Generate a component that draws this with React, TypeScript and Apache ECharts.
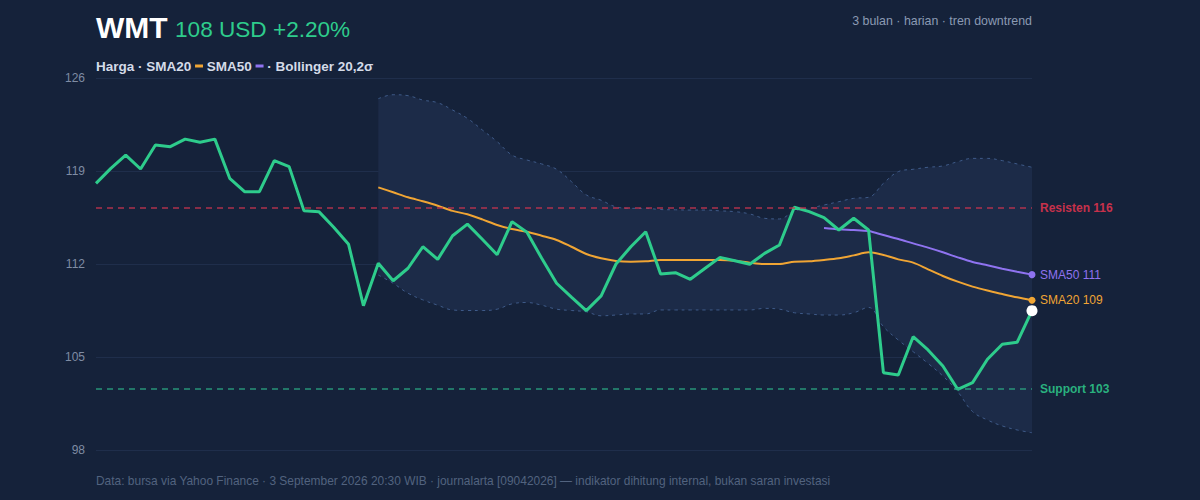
import React, { useEffect, useRef } from "react";
import * as echarts from "echarts";

// 64 daily sessions (3 months)
const days = Array.from({ length: 64 }, (_, i) => `H${i + 1}`);

const price = [
  118.07, 119.2, 120.2, 119.15, 120.96, 120.83, 121.4, 121.16, 121.4, 118.45,
  117.44, 117.44, 119.78, 119.33, 116.0, 115.94, 114.76, 113.48, 108.86, 112.05,
  110.74, 111.68, 113.3, 112.35, 114.13, 115.0, 113.86, 112.7, 115.19, 114.4,
  112.43, 110.55, 109.5, 108.49, 109.6, 112.0, 113.3, 114.43, 111.25, 111.35,
  110.85, 111.68, 112.5, 112.25, 111.98, 112.8, 113.43, 116.27, 115.94, 115.49,
  114.56, 115.44, 114.56, 103.82, 103.65, 106.53, 105.53, 104.32, 102.57, 103.07,
  104.83, 105.96, 106.11, 108.49,
];

// SMA20 from session 20 (index 19)
const sma20Start = 19;
const sma20 = [
  117.77, 117.4, 117.02, 116.72, 116.39, 116.0, 115.74, 115.36, 114.94, 114.63,
  114.43, 114.13, 113.81, 113.3, 112.75, 112.43, 112.23, 112.17, 112.2, 112.3,
  112.3, 112.3, 112.3, 112.3, 112.25, 112.1, 112.0, 112.0, 112.17, 112.2,
  112.3, 112.43, 112.65, 112.88, 112.68, 112.35, 112.1, 111.6, 111.1, 110.67,
  110.3, 110.0, 109.74, 109.49, 109.27,
];

// SMA50 from session 50 (index 49)
const sma50Start = 49;
const sma50 = [
  114.71, 114.61, 114.56, 114.48, 114.18, 113.88, 113.55, 113.23, 112.88, 112.5,
  112.15, 111.9, 111.65, 111.42, 111.2,
];

// Bollinger 20,2σ from index 19
const bbStart = 19;
const bbUpper = [
  124.44, 124.74, 124.67, 124.34, 124.14, 123.59, 122.96, 122.09, 121.21, 120.2,
  119.83, 119.53, 119.13, 118.2, 117.2, 116.8, 116.3, 116.19, 116.19, 116.1,
  116.08, 116.06, 116.06, 116.0, 115.94, 115.77, 115.44, 115.39, 115.99, 116.19,
  116.44, 116.69, 116.94, 117.02, 118.07, 118.95, 119.13, 119.28, 119.38, 119.7,
  119.95, 119.95, 119.78, 119.53, 119.28,
];
const bbLower = [
  111.17, 110.55, 109.8, 109.3, 108.9, 108.54, 108.5, 108.5, 108.6, 109.0,
  109.1, 108.9, 108.6, 108.5, 108.4, 108.1, 108.16, 108.24, 108.24, 108.54,
  108.54, 108.54, 108.54, 108.54, 108.54, 108.54, 108.66, 108.6, 108.33, 108.24,
  108.16, 108.16, 108.33, 108.73, 107.28, 106.28, 105.4, 104.52, 103.57, 102.39,
  100.89, 100.26, 99.81, 99.51, 99.3,
];

const yMin = 98;
const yMax = 126;
const yStep = 7;

const resistance = 116.25;
const support = 102.6;

const FONT = "'Liberation Sans', Arial, Helvetica, sans-serif";
const BG = "#15223a";
const GREEN = "#2ecc8c";
const ORANGE = "#f0a534";
const PURPLE = "#8f73f0";
const RED = "#e8344f";

function pad(arr: number[], start: number): (number | null)[] {
  return [...Array(start).fill(null), ...arr];
}

function withEndDot(arr: (number | null)[], size: number, color: string) {
  return arr.map((v, i) =>
    i === arr.length - 1
      ? { value: v, symbol: "circle", symbolSize: size, itemStyle: { color } }
      : v
  );
}

function levelSeries(name: string, value: number, lineColor: string, labelColor: string, text: string) {
  return {
    name,
    type: "line",
    data: [],
    symbol: "none",
    color: lineColor,
    itemStyle: { color: lineColor },
    lineStyle: { color: lineColor },
    z: 2,
    markLine: {
      silent: true,
      symbol: ["none", "none"],
      lineStyle: { color: lineColor, width: 1.5, type: [6, 5], opacity: 0.85 },
      emphasis: { disabled: true },
      label: {
        show: true,
        position: "end",
        distance: 8,
        formatter: text,
        color: labelColor,
        fontSize: 12,
        fontWeight: "bold",
        fontFamily: FONT,
      },
      data: [{ yAxis: value, lineStyle: { color: lineColor } }],
    },
  };
}

export default function App() {
  const ref = useRef<HTMLDivElement>(null);

  useEffect(() => {
    document.body.style.margin = "0";
    document.body.style.background = BG;
    const chart = echarts.init(ref.current!, undefined, { renderer: "svg" });

    const lowerFull = pad(bbLower, bbStart);
    const widthFull = pad(
      bbUpper.map((u, i) => +(u - bbLower[i]).toFixed(2)),
      bbStart
    );

    const option: any = {
      animation: false,
      backgroundColor: BG,
      textStyle: { fontFamily: FONT },
      grid: { left: 96, right: 168, top: 78, bottom: 50 },
      xAxis: {
        type: "category",
        data: days,
        boundaryGap: false,
        show: false,
      },
      yAxis: {
        type: "value",
        min: yMin,
        max: yMax,
        interval: yStep,
        axisLine: { show: false },
        axisTick: { show: false },
        axisLabel: { color: "#7f8ca3", fontSize: 12, margin: 11, fontFamily: FONT },
        splitLine: { lineStyle: { color: "#1f2e4b", width: 1 } },
      },
      series: [
        {
          name: "BB lower",
          type: "line",
          data: lowerFull,
          stack: "bb",
          smooth: 0.4,
          symbol: "none",
          lineStyle: { color: "#3f5b89", width: 1, type: [3, 4] },
          z: 1,
        },
        {
          name: "BB upper",
          type: "line",
          data: widthFull,
          stack: "bb",
          smooth: 0.4,
          symbol: "none",
          lineStyle: { color: "#3f5b89", width: 1, type: [3, 4] },
          areaStyle: { color: "#1c2b48", opacity: 1 },
          z: 1,
        },
        levelSeries("Resisten", resistance, "#c8344f", RED, "Resisten 116"),
        levelSeries("Support", support, "#2aa882", GREEN, "Support 103"),
        {
          name: "SMA20",
          type: "line",
          data: withEndDot(pad(sma20, sma20Start), 7, ORANGE),
          smooth: 0.3,
          symbol: "none",
          showSymbol: true,
          showAllSymbol: true,
          lineStyle: { color: ORANGE, width: 2 },
          itemStyle: { color: ORANGE },
          endLabel: {
            show: true,
            formatter: "SMA20 109",
            color: ORANGE,
            fontSize: 12,
            fontFamily: FONT,
            distance: 8,
          },
          z: 3,
        },
        {
          name: "SMA50",
          type: "line",
          data: withEndDot(pad(sma50, sma50Start), 7, PURPLE),
          smooth: 0.3,
          symbol: "none",
          showSymbol: true,
          showAllSymbol: true,
          lineStyle: { color: PURPLE, width: 2 },
          itemStyle: { color: PURPLE },
          endLabel: {
            show: true,
            formatter: "SMA50 111",
            color: PURPLE,
            fontSize: 12,
            fontFamily: FONT,
            distance: 8,
          },
          z: 3,
        },
        {
          name: "Harga",
          type: "line",
          data: withEndDot(price, 11, "#ffffff"),
          symbol: "none",
          showSymbol: true,
          showAllSymbol: true,
          lineStyle: { color: GREEN, width: 3 },
          itemStyle: { color: "#ffffff" },
          z: 4,
        },
      ],
      graphic: [
        {
          type: "text",
          left: 96,
          top: 12,
          style: {
            text: "WMT",
            fill: "#ffffff",
            font: `bold 30px ${FONT}`,
          },
        },
        {
          type: "text",
          left: 175,
          top: 18,
          style: {
            text: "108 USD +2.20%",
            fill: GREEN,
            font: `22.6px ${FONT}`,
          },
        },
        {
          type: "text",
          right: 168,
          top: 15,
          style: {
            text: "3 bulan · harian · tren downtrend",
            fill: "#8b9ab3",
            font: `12.4px ${FONT}`,
            align: "right",
          },
        },
        {
          type: "text",
          left: 96,
          top: 59,
          style: {
            text: "{a|Harga · SMA20 }{o|}{a| SMA50 }{p|}{a| · Bollinger 20,2σ}",
            rich: {
              a: { fill: "#d4dbe8", color: "#d4dbe8", fontWeight: "bold", fontSize: 13.5, fontFamily: FONT },
              o: { width: 8, height: 3, backgroundColor: ORANGE },
              p: { width: 8, height: 3, backgroundColor: PURPLE },
            },
          },
        },
        {
          type: "text",
          left: 96,
          top: 475,
          style: {
            text:
              "Data: bursa via Yahoo Finance · 3 September 2026 20:30 WIB · journalarta [09042026] — indikator dihitung internal, bukan saran investasi",
            fill: "#52637f",
            font: `11.95px ${FONT}`,
          },
        },
      ],
    };

    chart.setOption(option);
    return () => chart.dispose();
  }, []);

  return <div ref={ref} style={{ width: 1200, height: 500, background: BG }} />;
}
